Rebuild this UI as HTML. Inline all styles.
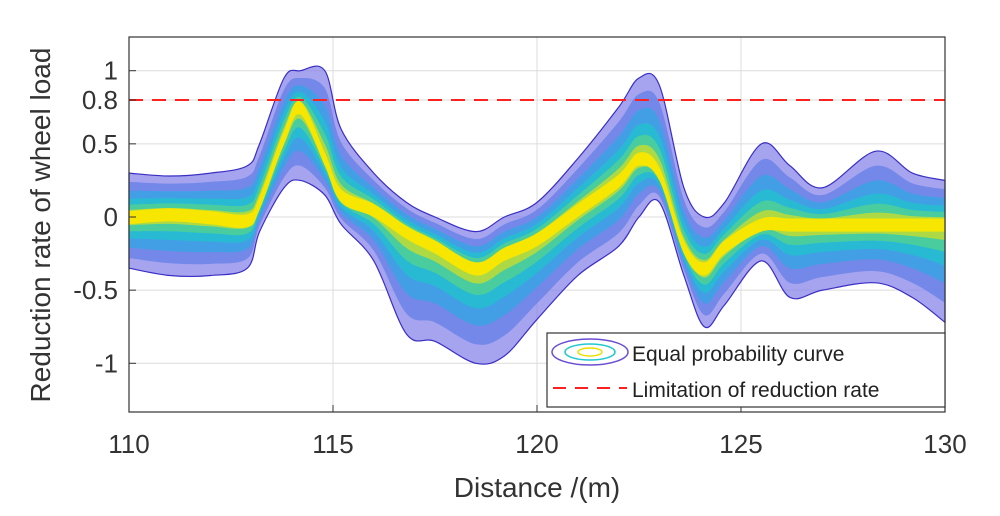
<!DOCTYPE html>
<html><head><meta charset="utf-8"><style>
body{margin:0;background:#fff;}
svg{display:block;font-family:"Liberation Sans",Arial,sans-serif;}
</style></head><body>
<svg id="chart" width="1000" height="516">
<g id="grid"></g>
<g id="bands"></g>
<g id="over"></g>
</svg>
<script>
const dist   = [110,111,112,112.9,113.2,113.8,114.2,114.8,115.2,116,116.8,117.5,118.5,119.2,120,121,122,122.5,123,123.6,124.1,124.6,125.5,126.2,127,128.3,129.2,130];
const center = [0,0.02,0,-0.02,0.1,0.55,0.75,0.4,0.15,0.05,-0.1,-0.2,-0.35,-0.25,-0.15,0.05,0.25,0.4,0.3,-0.2,-0.35,-0.2,-0.05,-0.05,-0.05,-0.05,-0.05,-0.05];
const upper  = [0.3,0.28,0.3,0.35,0.5,0.95,1.0,1.0,0.6,0.3,0.1,0,-0.1,0,0.1,0.4,0.75,0.95,0.9,0.2,0,0.1,0.5,0.35,0.2,0.45,0.3,0.25];
const lower  = [-0.35,-0.4,-0.4,-0.35,-0.1,0.2,0.25,0.15,-0.05,-0.3,-0.8,-0.85,-1.0,-0.95,-0.7,-0.4,-0.2,0,0.1,-0.4,-0.75,-0.6,-0.3,-0.55,-0.5,-0.45,-0.55,-0.72];
const xTicks = [110,115,120,125,130];
const yTicks = [1,0.8,0.5,0,-0.5,-1];
const yTickLabels = ["1","0.8","0.5","0","-0.5","-1"];
const limitValue = 0.8;

const L=129,R=945,T=37,B=412;
const sx=v=>L+(v-110)/20*(R-L);
const sy=v=>217-v*146.3;
const NS='http://www.w3.org/2000/svg';
function mk(tag,attrs,parent){const e=document.createElementNS(NS,tag);for(const k in attrs)e.setAttribute(k,attrs[k]);parent.appendChild(e);return e;}
function smooth(pts){let d='M'+pts[0][0]+','+pts[0][1];for(let i=0;i<pts.length-1;i++){const p0=pts[Math.max(0,i-1)],p1=pts[i],p2=pts[i+1],p3=pts[Math.min(pts.length-1,i+2)];const c1=[p1[0]+(p2[0]-p0[0])/6,p1[1]+(p2[1]-p0[1])/6],c2=[p2[0]-(p3[0]-p1[0])/6,p2[1]-(p3[1]-p1[1])/6];d+=' C'+c1+' '+c2+' '+p2;}return d;}
const svg=document.getElementById('chart'),grid=document.getElementById('grid'),bands=document.getElementById('bands'),over=document.getElementById('over');

xTicks.forEach(t=>{const l=mk('line',{x1:sx(t),x2:sx(t),y1:T,y2:B,stroke:'#dcdcdc','stroke-width':1},grid);});
yTicks.forEach(t=>{const l=mk('line',{x1:L,x2:R,y1:sy(t),y2:sy(t),stroke:'#dcdcdc','stroke-width':1},grid);});

const levels=[[1,'#8884ea',0.75],[0.8,'#6a84e8',0.85],[0.6,'#3ea2e4',0.9],[0.42,'#26bcd0',0.9],[0.28,'#4dcf98',0.9],[0.16,'#b8dc3a',0.9]];
levels.forEach(([f,col,op])=>{
  const up=dist.map((d,i)=>[sx(d),sy(center[i]+f*(upper[i]-center[i]))]);
  const lo=dist.map((d,i)=>[sx(d),sy(center[i]+f*(lower[i]-center[i]))]).reverse();
  const d=smooth(up)+' L'+lo[0]+' '+smooth(lo).slice(1)+' Z';
  const p=mk('path',{d:d,fill:col,'fill-opacity':op,stroke:f===1?'#3a2fc4':'none','stroke-width':1.2},bands);
  
  
});
const yl=dist.map((d,i)=>[sx(d),sy(center[i]+0.04)]),yl2=dist.map((d,i)=>[sx(d),sy(center[i]-0.05)]).reverse();
const yp=mk('path',{d:smooth(yl)+' L'+yl2[0]+' '+smooth(yl2).slice(1)+' Z',fill:'#f6e600'},bands);



const lim=mk('line',{x1:L,x2:R,y1:sy(limitValue),y2:sy(limitValue),stroke:'#ff2020','stroke-width':2,'stroke-dasharray':'14,9'},over);


const ax=mk('rect',{x:L,y:T,width:R-L,height:B-T,fill:'none',stroke:'#333','stroke-width':1.2},over);



xTicks.forEach(t=>{
  mk('line',{x1:sx(t),x2:sx(t),y1:B,y2:B-7,stroke:'#333'},over);
  const tx=mk('text',{x:sx(t),y:453,'text-anchor':'middle','font-size':26,fill:'#333'},over);tx.textContent=t;
  
  
});
yTicks.forEach((t,i)=>{
  mk('line',{x1:L,x2:L+7,y1:sy(t),y2:sy(t),stroke:'#333'},over);
  const tx=mk('text',{x:118,y:sy(t)+9,'text-anchor':'end','font-size':26,fill:'#333'},over);tx.textContent=yTickLabels[i];
  
  
});
const xt=mk('text',{x:537,y:497,'text-anchor':'middle','font-size':28,fill:'#333'},over);xt.textContent='Distance /(m)';


const yt=mk('text',{x:0,y:0,'text-anchor':'middle','font-size':28,fill:'#333',transform:'translate(50,225) rotate(-90)'},over);yt.textContent='Reduction rate of  wheel load';



const lg=mk('g',{},over);


mk('rect',{x:547,y:333,width:398,height:74,fill:'#fff',stroke:'#333','stroke-width':1.2},lg);
mk('ellipse',{cx:590,cy:352,rx:38,ry:13,fill:'none',stroke:'#6a4fd0','stroke-width':1.5},lg);
mk('ellipse',{cx:590,cy:352,rx:25,ry:8,fill:'none',stroke:'#20c8d0','stroke-width':1.5},lg);
mk('ellipse',{cx:590,cy:352,rx:12,ry:4,fill:'none',stroke:'#e8e000','stroke-width':1.5},lg);
const e1=mk('text',{x:632,y:361,'font-size':21,fill:'#222'},lg);e1.textContent='Equal probability curve';


mk('line',{x1:553,x2:627,y1:388,y2:388,stroke:'#ff2020','stroke-width':2,'stroke-dasharray':'13,9'},lg);
const e2=mk('text',{x:632,y:397,'font-size':21,fill:'#222'},lg);e2.textContent='Limitation of reduction rate';


</script>
</body></html>
